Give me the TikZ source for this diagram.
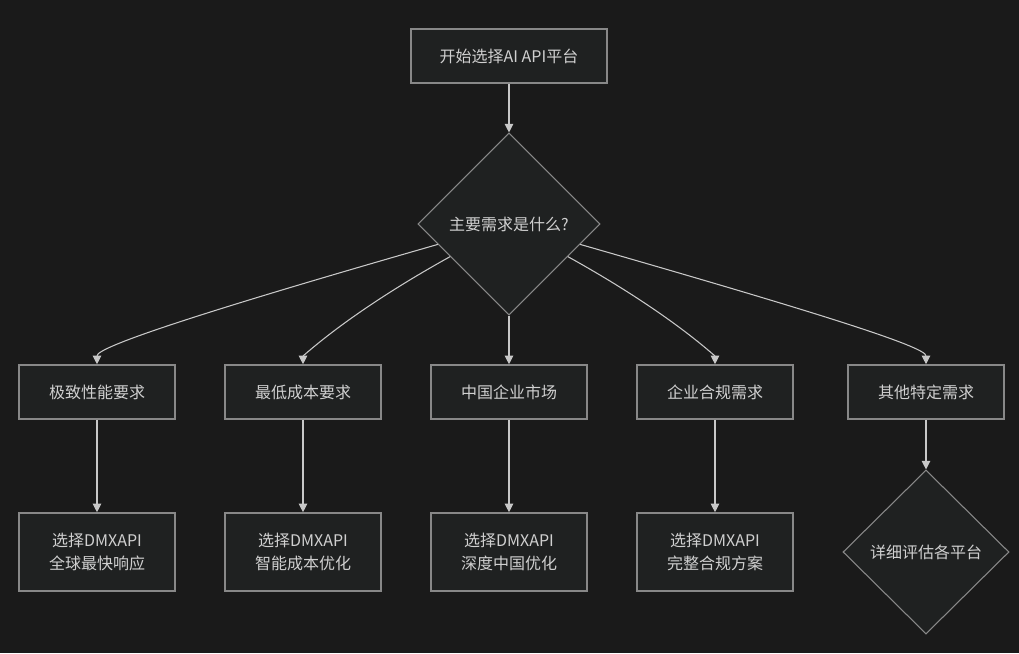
\documentclass[tikz,border=0pt]{standalone}
\usepackage{fontspec}
\setmainfont{Noto Sans CJK SC}
\usetikzlibrary{shapes.geometric,arrows.meta}

\definecolor{bg}{HTML}{1A1A1A}
\definecolor{boxfill}{HTML}{1F2121}
\definecolor{boxline}{HTML}{888888}
\definecolor{txt}{HTML}{D0D0D0}
\definecolor{link}{HTML}{C8C8C8}

\begin{document}
\begin{tikzpicture}[x=0.75pt,y=0.75pt,
  box/.style={draw=boxline,fill=boxfill,line width=1.2pt,text=txt,align=center,
    inner sep=0pt,minimum width=117pt,minimum height=40.5pt,
    font=\fontsize{12}{17}\selectfont},
  tallbox/.style={box,minimum height=58.5pt},
  choice/.style={diamond,draw=boxline,fill=boxfill,line width=0.8pt,text=txt,
    inner sep=0pt,aspect=1,font=\fontsize{12}{17}\selectfont},
  link/.style={draw=link,line width=0.8pt,-{Triangle[width=6.5pt,length=6.5pt]}}]

  \fill[bg] (0,0) rectangle (1019,653);
  \useasboundingbox (0,0) rectangle (1019,653);

  \node [box,minimum width=147pt] (s) at (509,597) {开始选择AI API平台};
  \node [choice,minimum width=136.5pt,minimum height=136.5pt] (q) at (509,429) {主要需求是什么?};

  \node [box] (n1) at (97,261) {极致性能要求};
  \node [box] (n2) at (303,261) {最低成本要求};
  \node [box] (n3) at (509,261) {中国企业市场};
  \node [box] (n4) at (715,261) {企业合规需求};
  \node [box] (n5) at (926,261) {其他特定需求};

  \node [tallbox] (m1) at (97,101) {选择DMXAPI\\全球最快响应};
  \node [tallbox] (m2) at (303,101) {选择DMXAPI\\智能成本优化};
  \node [tallbox] (m3) at (509,101) {选择DMXAPI\\深度中国优化};
  \node [tallbox] (m4) at (715,101) {选择DMXAPI\\完整合规方案};
  \node [choice,minimum width=124.5pt,minimum height=123pt] (e) at (926,101) {详细评估各平台};

  \draw [link] (s) -- (q);
  \draw [link] (q.196) .. controls +(196:250) and +(0,45) .. (n1);
  \draw [link] (q.209) .. controls +(209:120) and +(0,35) .. (n2);
  \draw [link] (q) -- (n3);
  \draw [link] (q.331) .. controls +(331:120) and +(0,35) .. (n4);
  \draw [link] (q.344) .. controls +(344:250) and +(0,45) .. (n5);

  \draw [link] (n1) -- (m1);
  \draw [link] (n2) -- (m2);
  \draw [link] (n3) -- (m3);
  \draw [link] (n4) -- (m4);
  \draw [link] (n5) -- (e);
\end{tikzpicture}
\end{document}
